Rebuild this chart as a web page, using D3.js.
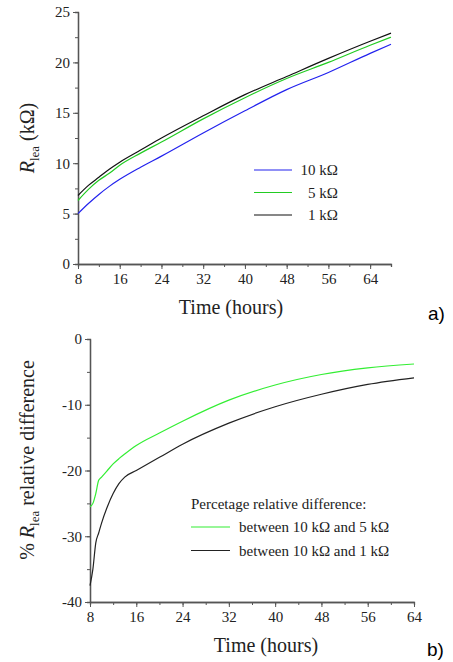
<!DOCTYPE html>
<html><head><meta charset="utf-8">
<script src="https://cdn.jsdelivr.net/npm/d3@7"></script>
<style>body{margin:0;background:#fff}</style>
</head><body><svg id="chart" width="453" height="662"></svg>
<script>
// top panel: R_lea vs time
const hoursA = [8, 10, 12, 14, 16, 20, 24, 32, 40, 48, 56, 64, 68];
const blue10k = [5.0, 6.0, 6.9, 7.7, 8.4, 9.6, 10.7, 13.0, 15.2, 17.3, 19.0, 20.9, 21.8];
const green5k = [6.3, 7.4, 8.3, 9.0, 9.8, 11.0, 12.1, 14.4, 16.5, 18.4, 20.0, 21.7, 22.5];
const black1k = [6.8, 7.8, 8.6, 9.4, 10.1, 11.3, 12.5, 14.7, 16.8, 18.6, 20.4, 22.1, 22.9];
// bottom panel: % relative difference
const hoursB = [8, 8.5, 9, 9.5, 10, 11, 12, 13, 14, 16, 20, 24, 32, 40, 48, 56, 64];
const diff5k = [-25.5, -25, -23.5, -21.5, -21, -20, -19, -18.2, -17.5, -16.2, -14.3, -12.5, -9.3, -7.0, -5.4, -4.4, -3.8];
const diff1k = [-37.5, -35, -31, -29.5, -28, -25.5, -23.5, -22, -21, -20, -18, -16, -12.8, -10.3, -8.4, -6.9, -5.9];
const xTicks = [8, 16, 24, 32, 40, 48, 56, 64];

const SERIF = '"Liberation Serif", "DejaVu Serif", serif';
const svg = d3.select('#chart');

function panel(o) {
  const g = svg.append('g');
  const x = d3.scaleLinear().domain(o.xDomain).range([o.left, o.right]);
  const y = d3.scaleLinear().domain(o.yDomain).range([o.bottom, o.top]);

  const minorX = d3.range(o.xDomain[0], o.xDomain[1] + 0.01, 4);
  g.append('g').attr('transform', `translate(0,${o.bottom})`)
    .call(d3.axisBottom(x).tickValues(minorX).tickSize(3).tickFormat(''));
  g.append('g').attr('transform', `translate(0,${o.bottom})`)
    .call(d3.axisBottom(x).tickValues(xTicks).tickSize(5).tickSizeOuter(0).tickPadding(4))
    .selectAll('text').style('font-size', '15px');
  g.append('g').attr('transform', `translate(${o.left},0)`)
    .call(d3.axisLeft(y).tickValues(d3.range(o.yDomain[0], o.yDomain[1] + 0.01, o.minor)).tickSize(3).tickFormat(''));
  g.append('g').attr('transform', `translate(${o.left},0)`)
    .call(d3.axisLeft(y).tickValues(o.yTicks).tickSize(5).tickSizeOuter(0).tickPadding(3).tickFormat(d => String(d)))
    .selectAll('text').style('font-size', '15px');
  g.selectAll('.domain').attr('stroke', '#555').attr('stroke-width', 1.3);
  g.selectAll('.tick line').attr('stroke', '#555');

  const line = d3.line().curve(d3.curveMonotoneX).x((d, i) => x(o.xs[i])).y(d => y(d));
  o.series.forEach(s => {
    g.append('path').datum(s.values).attr('d', line)
      .attr('fill', 'none').attr('stroke', s.color).attr('stroke-width', 1.2);
  });

  g.append('text').attr('x', o.titleX).attr('y', o.bottom + 50)
    .attr('text-anchor', 'middle').style('font-size', '20px').text('Time (hours)');
  return { g, x, y };
}

const a = panel({
  left: 78, right: 391, top: 12, bottom: 264, titleX: 231,
  xDomain: [8, 68], yDomain: [0, 25], yTicks: [0, 5, 10, 15, 20, 25], minor: 2.5,
  xs: hoursA,
  series: [{ values: blue10k, color: '#2222ee' }, { values: green5k, color: '#22cc22' }, { values: black1k, color: '#111' }]
});
const yla = a.g.append('text').attr('transform', 'translate(34,138) rotate(-90)')
  .attr('text-anchor', 'middle').style('font-size', '20px');
yla.append('tspan').style('font-style', 'italic').text('R');
yla.append('tspan').attr('dy', 5).style('font-size', '13px').text('lea');
yla.append('tspan').attr('dy', -5).text(' (kΩ)');

[['10 kΩ', '#2222ee'], ['5 kΩ', '#22cc22'], ['1 kΩ', '#111']].forEach((d, i) => {
  const yy = 170 + i * 22.5;
  a.g.append('line').attr('x1', 254).attr('x2', 292).attr('y1', yy).attr('y2', yy)
    .attr('stroke', d[1]).attr('stroke-width', 1.2);
  a.g.append('text').attr('x', 338).attr('y', yy + 5).attr('text-anchor', 'end')
    .style('font-size', '15px').text(d[0]);
});

const b = panel({
  left: 90, right: 414, top: 339, bottom: 602, titleX: 266,
  xDomain: [8, 64], yDomain: [-40, 0], yTicks: [-40, -30, -20, -10, 0], minor: 5,
  xs: hoursB,
  series: [{ values: diff5k, color: '#33ee33' }, { values: diff1k, color: '#222' }]
});
const ylb = b.g.append('text').attr('transform', 'translate(34,460) rotate(-90)')
  .attr('text-anchor', 'middle').style('font-size', '20px');
ylb.append('tspan').text('% ');
ylb.append('tspan').style('font-style', 'italic').text('R');
ylb.append('tspan').attr('dy', 5).style('font-size', '13px').text('lea');
ylb.append('tspan').attr('dy', -5).text(' relative difference');

b.g.append('text').attr('x', 191).attr('y', 509).style('font-size', '15px').text('Percetage relative difference:');
[['between 10 kΩ and 5 kΩ', '#33ee33'], ['between 10 kΩ and 1 kΩ', '#222']].forEach((d, i) => {
  const yy = 527 + i * 23.5;
  b.g.append('line').attr('x1', 191).attr('x2', 230).attr('y1', yy).attr('y2', yy)
    .attr('stroke', d[1]).attr('stroke-width', 1.2);
  b.g.append('text').attr('x', 239).attr('y', yy + 5).style('font-size', '15px').text(d[0]);
});

svg.selectAll('text').style('font-family', SERIF).style('fill', '#222');

svg.append('text').attr('x', 428).attr('y', 320).style('font-family', '"Liberation Sans", Arial, sans-serif').style('font-size', '19px').text('a)');
svg.append('text').attr('x', 427).attr('y', 656).style('font-family', '"Liberation Sans", Arial, sans-serif').style('font-size', '19px').text('b)');
</script></body></html>
